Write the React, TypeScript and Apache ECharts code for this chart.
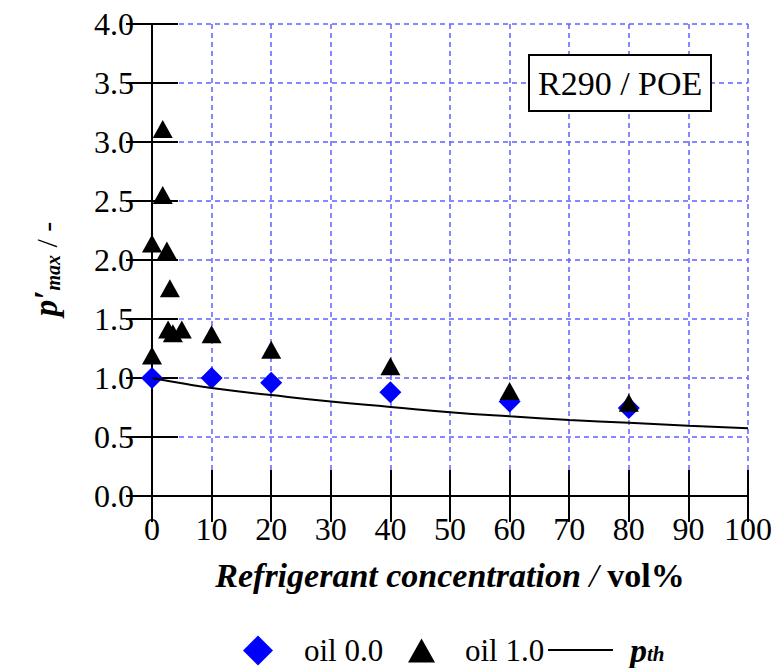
import React, { useEffect, useRef } from "react";
import * as echarts from "echarts";

const oil0X = [0, 10, 20, 40, 60, 80];
const oil0Y = [1.0, 1.0, 0.96, 0.88, 0.8, 0.745];
const oil1X = [0, 0, 1.8, 1.8, 2.5, 3, 2.7, 3.5, 5, 10, 20, 40, 60, 80];
const oil1Y = [1.19, 2.14, 3.11, 2.55, 2.08, 1.76, 1.41, 1.38, 1.41, 1.37, 1.24, 1.1, 0.89, 0.79];
const pthX = [0, 5, 10, 20, 30, 40, 50, 60, 70, 80, 90, 100];
const pthY = [1.0, 0.955, 0.915, 0.855, 0.8, 0.755, 0.71, 0.675, 0.645, 0.62, 0.595, 0.575];
const xTicks = { min: 0, max: 100, interval: 10 };
const yTicks = { min: 0, max: 4, interval: 0.5 };

const FONT = "Liberation Serif";
const GRID_COLOR = "#6060ff";

export default function App() {
  const ref = useRef<HTMLDivElement>(null);
  useEffect(() => {
    if (!ref.current) return;
    document.body.style.margin = "0";
    const chart = echarts.init(ref.current, undefined, { renderer: "svg" });
    const zip = (xs: number[], ys: number[]) => xs.map((x, i) => [x, ys[i]]);
    const hidden = { show: false };
    const legendText = { fontFamily: FONT, fontSize: 31, color: "#000", lineHeight: 30 };
    chart.setOption({
      animation: false,
      backgroundColor: "#fff",
      grid: { left: 152, right: 30, top: 24, bottom: 172 },
      title: {
        text: "R290 / POE",
        left: 529,
        top: 55,
        padding: [11, 9, 11, 9],
        borderColor: "#000",
        borderWidth: 2,
        backgroundColor: "#fff",
        textStyle: { fontFamily: FONT, fontSize: 34, fontWeight: "normal", color: "#000", lineHeight: 34 },
      },
      legend: [
        {
          data: [{ name: "oil 0.0", icon: "diamond" }],
          left: 238,
          top: 630,
          itemWidth: 30,
          itemHeight: 30,
          textStyle: { ...legendText, padding: [0, 0, 0, 26] },
        },
        {
          data: [{ name: "oil 1.0", icon: "triangle" }],
          left: 403,
          top: 630,
          itemWidth: 27,
          itemHeight: 24,
          textStyle: { ...legendText, padding: [0, 0, 0, 25] },
        },
        {
          data: [{ name: "p_th", icon: "rect" }],
          left: 543,
          top: 628,
          itemWidth: 65,
          itemHeight: 2,
          textStyle: {
            fontFamily: FONT,
            color: "#000",
            padding: [0, 0, 0, 12],
            rich: {
              i: { fontFamily: FONT, fontSize: 34, fontStyle: "italic", fontWeight: "bold", lineHeight: 30 },
              s: { fontFamily: FONT, fontSize: 21, fontStyle: "italic", fontWeight: "bold", lineHeight: 20, padding: [8, 0, 0, 0] },
            },
          },
          formatter: () => "{i|p}{s|th}",
        },
      ],
      xAxis: [
        {
          type: "value",
          ...xTicks,
          position: "bottom",
          axisLine: { lineStyle: { color: "#000", width: 2 } },
          axisTick: { inside: true, length: 26, lineStyle: { color: "#000", width: 2 } },
          axisLabel: { fontFamily: FONT, fontSize: 32, color: "#000", margin: 17 },
          splitLine: { show: true, lineStyle: { color: GRID_COLOR, type: [5, 4], width: 1.5 } },
          name: "{a|Refrigerant concentration}{b| / }{c|vol%}",
          nameLocation: "middle",
          nameGap: 62,
          nameTextStyle: {
            rich: {
              a: { fontFamily: FONT, fontSize: 34, fontStyle: "italic", fontWeight: "bold", color: "#000" },
              b: { fontFamily: FONT, fontSize: 34, fontStyle: "italic", color: "#000" },
              c: { fontFamily: FONT, fontSize: 34, fontWeight: "bold", color: "#000" },
            },
          },
        },
        {
          type: "value",
          ...xTicks,
          position: "bottom",
          axisLine: { show: false },
          axisTick: { inside: false, length: 4, lineStyle: { color: "#000", width: 2 } },
          axisLabel: hidden,
          splitLine: hidden,
        },
        {
          type: "value",
          ...xTicks,
          position: "top",
          axisLine: { lineStyle: { color: "#000", width: 2 } },
          axisTick: { inside: true, length: 26, lineStyle: { color: "#000", width: 2 } },
          axisLabel: hidden,
          splitLine: hidden,
        },
      ],
      yAxis: [
        {
          type: "value",
          ...yTicks,
          position: "left",
          axisLine: { lineStyle: { color: "#000", width: 2 } },
          axisTick: { inside: true, length: 26, lineStyle: { color: "#000", width: 2 } },
          axisLabel: {
            fontFamily: FONT,
            fontSize: 32,
            color: "#000",
            margin: 18,
            formatter: (v: number) => v.toFixed(1),
          },
          splitLine: { show: true, lineStyle: { color: GRID_COLOR, type: [5, 4], width: 1.5 } },
          name: "{p|p′}{s|max}{n| / -}",
          nameLocation: "middle",
          nameRotate: 90,
          nameGap: 89,
          nameTextStyle: {
            padding: [0, 18, 0, 0],
            rich: {
              p: { fontFamily: FONT, fontSize: 33, fontStyle: "italic", fontWeight: "bold", color: "#000" },
              s: { fontFamily: FONT, fontSize: 20, fontStyle: "italic", fontWeight: "bold", color: "#000", padding: [14, 0, 0, 0] },
              n: { fontFamily: FONT, fontSize: 30, color: "#000" },
            },
          },
        },
        {
          type: "value",
          ...yTicks,
          position: "left",
          axisLine: { show: false },
          axisTick: { inside: false, length: 4, lineStyle: { color: "#000", width: 2 } },
          axisLabel: hidden,
          splitLine: hidden,
        },
        {
          type: "value",
          ...yTicks,
          position: "right",
          axisLine: { lineStyle: { color: "#000", width: 2 } },
          axisTick: { inside: true, length: 26, lineStyle: { color: "#000", width: 2 } },
          axisLabel: hidden,
          splitLine: hidden,
        },
      ],
      series: [
        {
          name: "oil 0.0",
          type: "scatter",
          symbol: "diamond",
          symbolSize: 22,
          itemStyle: { color: "#0000ff", opacity: 1 },
          data: zip(oil0X, oil0Y),
          z: 3,
        },
        {
          name: "oil 1.0",
          type: "scatter",
          symbol: "triangle",
          symbolSize: [20, 18],
          itemStyle: { color: "#000", opacity: 1 },
          data: zip(oil1X, oil1Y),
          z: 4,
        },
        {
          name: "p_th",
          type: "line",
          smooth: true,
          symbol: "none",
          lineStyle: { color: "#000", width: 2 },
          itemStyle: { color: "#000" },
          data: zip(pthX, pthY),
          z: 5,
        },
      ],
    });
    return () => chart.dispose();
  }, []);
  return <div ref={ref} style={{ width: 778, height: 668 }} />;
}
